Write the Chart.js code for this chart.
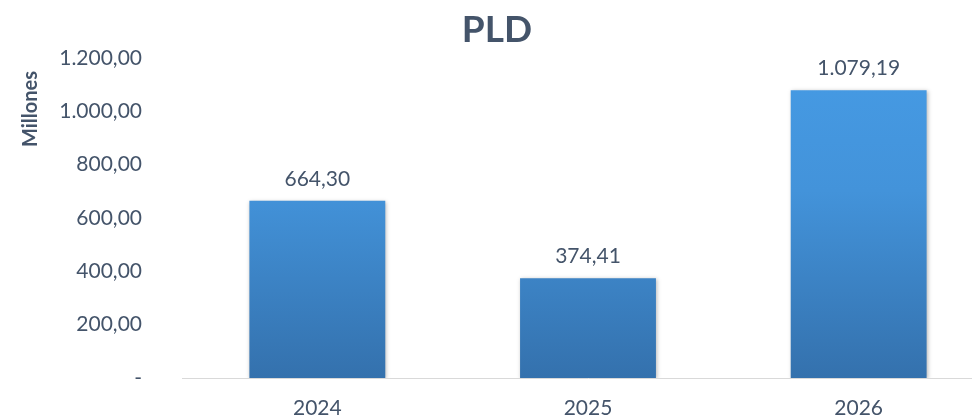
<!DOCTYPE html>
<html>
<head>
<meta charset="utf-8">
<script src="https://cdn.jsdelivr.net/npm/chart.js@4/dist/chart.umd.min.js"></script>
<style>
html,body{margin:0;padding:0;background:#fff;overflow:hidden;width:972px;height:419px;}
#wrap{position:relative;width:972px;height:419px;overflow:hidden;}
canvas{display:block;position:absolute;left:0;top:0;}
</style>
</head>
<body>
<div id="wrap"><canvas id="c" width="1000" height="419"></canvas></div>
<script>
const chartTitle = "PLD";
const yAxisTitle = "Millones";
const categories = ["2024", "2025", "2026"];
const values = [664.30, 374.41, 1079.19];
const yTicks = [0, 200, 400, 600, 800, 1000, 1200];

const textColor = "#44546A";
const fontFamily = "Lato, 'Open Sans', sans-serif";

function fmt(v) {
  if (v === 0) return "-";
  const parts = v.toFixed(2).split(".");
  const intPart = parts[0].replace(/\B(?=(\d{3})+(?!\d))/g, ".");
  return intPart + "," + parts[1];
}

const gradientPlugin = {
  id: "barGradient",
  beforeDatasetsDraw(chart) {
    const ctx = chart.ctx;
    chart.getDatasetMeta(0).data.forEach(el => {
      const g = ctx.createLinearGradient(0, el.y, 0, el.base);
      g.addColorStop(0, "#4599E2");
      g.addColorStop(0.35, "#4393DA");
      g.addColorStop(1, "#3471AD");
      el.options.backgroundColor = g;
    });
  },
  beforeDatasetDraw(chart) {
    const ctx = chart.ctx;
    ctx.save();
    ctx.shadowColor = "rgba(0,0,0,0.28)";
    ctx.shadowBlur = 4;
    ctx.shadowOffsetX = 1;
    ctx.shadowOffsetY = 1;
  },
  afterDatasetDraw(chart) {
    chart.ctx.restore();
  }
};

const labelsPlugin = {
  id: "valueLabels",
  afterDatasetsDraw(chart) {
    const ctx = chart.ctx;
    ctx.save();
    ctx.fillStyle = textColor;
    ctx.font = "21px " + fontFamily;
    ctx.textAlign = "center";
    ctx.textBaseline = "middle";
    chart.getDatasetMeta(0).data.forEach((el, i) => {
      ctx.fillText(fmt(values[i]), el.x, el.y - 22);
    });
    // y-axis title
    ctx.translate(31, 109);
    ctx.rotate(-Math.PI / 2);
    ctx.font = "bold 20px " + fontFamily;
    ctx.fillText(yAxisTitle, 0, 0);
    ctx.restore();
  }
};

new Chart(document.getElementById("c"), {
  type: "bar",
  data: {
    labels: categories,
    datasets: [{
      data: values,
      backgroundColor: "#3F8AD0",
      barPercentage: 0.502,
      categoryPercentage: 1.0,
      borderWidth: 0
    }]
  },
  options: {
    responsive: false,
    animation: false,
    devicePixelRatio: 1,
    layout: { padding: { left: 0, right: 6, top: 0, bottom: 0 } },
    plugins: {
      legend: { display: false },
      tooltip: { enabled: false },
      title: {
        display: true,
        text: chartTitle,
        color: textColor,
        font: { family: fontFamily, size: 37, weight: "bold" },
        padding: { top: 8, bottom: 5.6 }
      }
    },
    scales: {
      x: {
        grid: { display: false, drawTicks: false },
        border: { display: true, color: "#D9D9D9", width: 1 },
        ticks: {
          color: textColor,
          font: { family: fontFamily, size: 21 },
          padding: 18
        },
        afterFit(scale) { scale.height = 41; }
      },
      y: {
        min: 0,
        max: 1200,
        afterBuildTicks(scale) { scale.ticks = yTicks.map(v => ({ value: v })); },
        grid: { display: false, drawTicks: false },
        border: { display: false },
        ticks: {
          color: textColor,
          font: { family: fontFamily, size: 21 },
          padding: 40,
          callback: v => fmt(v)
        },
        afterFit(scale) {
          scale.width = 182;
          scale.paddingTop = 0;
          scale.paddingBottom = 0;
        }
      }
    }
  },
  plugins: [gradientPlugin, labelsPlugin]
});
</script>
</body>
</html>
